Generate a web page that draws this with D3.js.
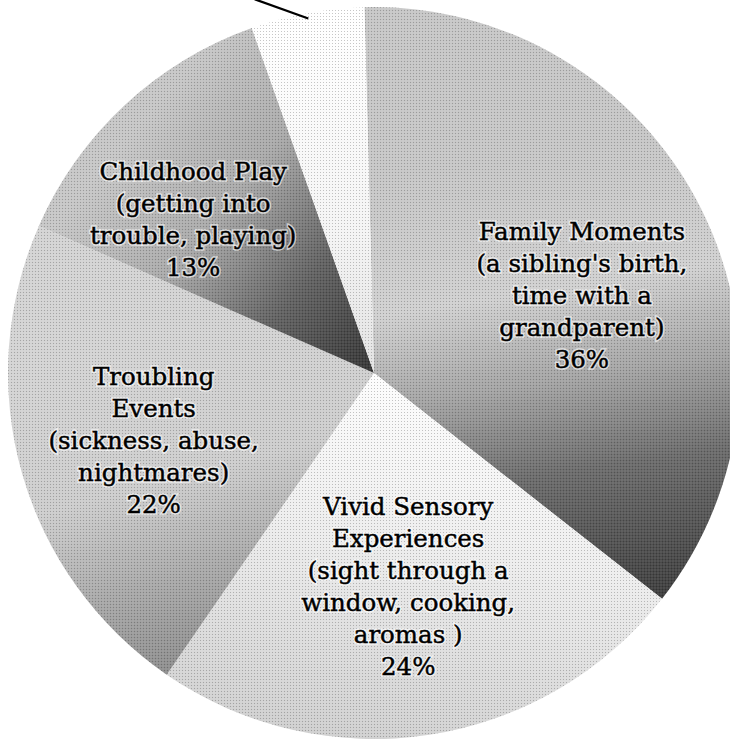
<!DOCTYPE html>
<html>
<head>
<meta charset="utf-8">
<script src="https://cdn.jsdelivr.net/npm/d3@7"></script>
<style>
  html, body { margin: 0; padding: 0; background: #fff; }
  svg { display: block; }
</style>
</head>
<body>
<div class="chart"></div>
<script>
// slices go clockwise from (just left of) 12 o'clock
const categories = ["Family Moments", "Vivid Sensory Experiences", "Troubling Events", "Childhood Play", "Other"];
const values = [36, 24, 22, 13, 5];
const labelLines = [
	["Family Moments", "(a sibling's birth,", "time with a", "grandparent)"],
	["Vivid Sensory", "Experiences", "(sight through a", "window, cooking,", "aromas )"],
	["Troubling", "Events", "(sickness, abuse,", "nightmares)"],
	["Childhood Play", "(getting into", "trouble, playing)"],
	[]
];

const width = 730, height = 740;
const cx = 374, cy = 373, radius = 366;
const offset = -1.5 * Math.PI / 180;

// grey tone ramps (page coords), roughly what the scan shows
const shades = {
	"Family Moments": { x1: 560, y1: 150, x2: 630, y2: 600,
		stops: [[0, "#c6c6c6"], [0.3, "#d0d0d0"], [0.5, "#a4a4a4"], [0.7, "#6c6c6c"], [1, "#3e3e3e"]] },
	"Vivid Sensory Experiences": { x1: 420, y1: 380, x2: 360, y2: 740,
		stops: [[0, "#fdfdfd"], [0.45, "#ededed"], [1, "#cfcfcf"]] },
	"Troubling Events": { x1: 110, y1: 350, x2: 200, y2: 690,
		stops: [[0, "#d3d3d3"], [0.4, "#cdcdcd"], [0.7, "#a6a6a6"], [1, "#868686"]] },
	"Childhood Play": { x1: 110, y1: 160, x2: 360, y2: 370,
		stops: [[0, "#c6c6c6"], [0.35, "#ababab"], [0.7, "#626262"], [1, "#3a3a3a"]] },
	"Other": { x1: 330, y1: 20, x2: 370, y2: 370,
		stops: [[0, "#ffffff"], [0.6, "#f4f4f4"], [1, "#e2e2e2"]] }
};

// small nudges so the text sits where the original put it
const nudge = {
	"Family Moments": [6, 24],
	"Childhood Play": [-27, 12],
	"Vivid Sensory Experiences": [0, -10],
	"Troubling Events": [-3, 5]
};

const data = categories.map((c, i) => ({ name: c, value: values[i], lines: labelLines[i] }));

const svg = d3.select(".chart").append("svg")
		.attr("width", width)
		.attr("height", height)
		.attr("viewBox", [0, 0, width, height]);

const defs = svg.append("defs");

Object.entries(shades).forEach(([name, s], i) => {
	s.id = "shade" + i;
	const lg = defs.append("linearGradient")
			.attr("id", s.id)
			.attr("gradientUnits", "userSpaceOnUse")
			.attr("x1", s.x1 - cx).attr("y1", s.y1 - cy)
			.attr("x2", s.x2 - cx).attr("y2", s.y2 - cy);
	lg.selectAll("stop")
		.data(s.stops)
		.join("stop")
			.attr("offset", d => d[0])
			.attr("stop-color", d => d[1]);
});

// faint screen dots, like the printed halftone
const pat = defs.append("pattern")
		.attr("id", "screen")
		.attr("patternUnits", "userSpaceOnUse")
		.attr("width", 3)
		.attr("height", 3);
pat.append("rect").attr("width", 1).attr("height", 1).attr("fill", "#000").attr("fill-opacity", 0.22);
pat.append("rect").attr("x", 1.5).attr("y", 1.5).attr("width", 1).attr("height", 1).attr("fill", "#fff").attr("fill-opacity", 0.25);

const pie = d3.pie()
		.sort(null)
		.value(d => d.value)
		.startAngle(offset)
		.endAngle(2 * Math.PI + offset);

const arcs = pie(data);

const arc = d3.arc().innerRadius(0).outerRadius(radius);
const labelArc = d3.arc().innerRadius(226).outerRadius(226);

const g = svg.append("g").attr("transform", `translate(${cx},${cy})`);

g.append("g")
	.selectAll("path")
	.data(arcs)
	.join("path")
		.attr("d", arc)
		.attr("fill", d => `url(#${shades[d.data.name].id})`);

g.append("g")
	.selectAll("path")
	.data(arcs)
	.join("path")
		.attr("d", arc)
		.attr("fill", "url(#screen)");

// leader line for the small slice (its label is off the page)
const small = arcs[arcs.length - 1];
const mid = (small.startAngle + small.endAngle) / 2;
const lx = Math.sin(mid) * radius * 0.985, ly = -Math.cos(mid) * radius * 0.985;
g.append("line")
		.attr("x1", lx).attr("y1", ly)
		.attr("x2", lx - 100).attr("y2", ly - 36)
		.attr("stroke", "#000")
		.attr("stroke-width", 2.2);

const lineHeight = 32;
const labelled = arcs.filter(d => d.data.lines.length);

function placeLabel(d) {
	const [x, y] = labelArc.centroid(d);
	const n = nudge[d.data.name] || [0, 0];
	return `translate(${x + n[0]},${y + n[1]})`;
}

function fillLines(sel) {
	sel.each(function(d) {
		const lines = d.data.lines.concat([d.data.value + "%"]);
		const top = -(lines.length - 1) / 2 * lineHeight + 9;
		d3.select(this).selectAll("tspan")
			.data(lines)
			.join("tspan")
				.attr("x", 0)
				.attr("y", (t, i) => top + i * lineHeight)
				.text(t => t);
	});
}

// light halo under the type, then the type itself a little heavier
const textStyle = sel => sel
		.attr("font-family", "'DejaVu Serif', serif")
		.attr("font-size", 24.5)
		.attr("text-anchor", "middle");

g.append("g")
		.call(textStyle)
		.attr("fill", "none")
		.attr("stroke", "#fff")
		.attr("stroke-opacity", 0.6)
		.attr("stroke-width", 3.5)
		.attr("aria-hidden", "true")
	.selectAll("text")
	.data(labelled)
	.join("text")
		.attr("transform", placeLabel)
		.call(fillLines);

g.append("g")
		.call(textStyle)
		.attr("fill", "#000")
		.attr("stroke", "#000")
		.attr("stroke-width", 0.45)
	.selectAll("text")
	.data(labelled)
	.join("text")
		.attr("transform", placeLabel)
		.call(fillLines);
</script>
</body>
</html>
